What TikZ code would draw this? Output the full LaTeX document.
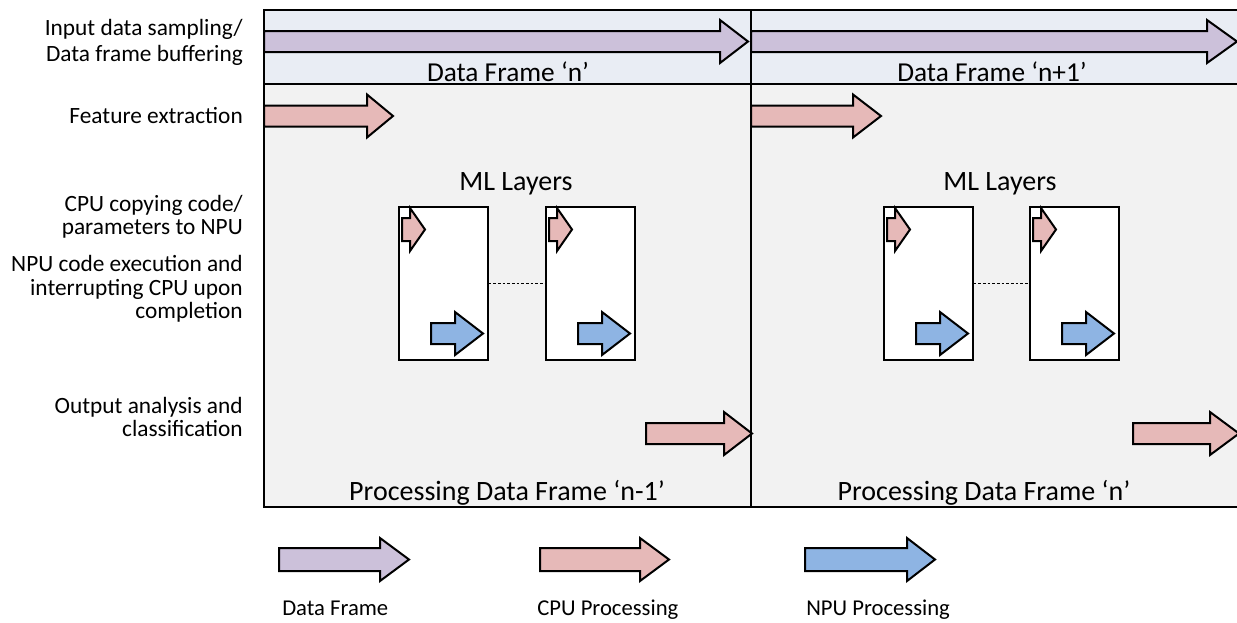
\documentclass[tikz,border=0pt]{standalone}
\usepackage{fontspec}
\setmainfont{Carlito}
\definecolor{dfpurple}{HTML}{CCC1DA}
\definecolor{cpupink}{HTML}{E6B9B8}
\definecolor{npublue}{HTML}{8EB4E3}
\definecolor{bandblue}{HTML}{E9EDF4}
\definecolor{procgray}{HTML}{F2F2F2}
\newcommand{\blockarrow}[7]{% color, xstart, xheadstart, xtip, yc, shafthalf, headhalf
  \filldraw[fill=#1, draw=black, line width=1.5pt, line join=miter]
    (#2,#5-#6) -- (#3,#5-#6) -- (#3,#5-#7) -- (#4,#5) -- (#3,#5+#7) -- (#3,#5+#6) -- (#2,#5+#6) -- cycle;}
\tikzset{
  lbl/.style={font=\fontsize{17.5}{17.5}\selectfont, align=right, anchor=east, inner sep=0pt},
  bandtxt/.style={font=\fontsize{20.5}{24}\selectfont, inner sep=0pt},
  midtxt/.style={font=\fontsize{21}{25}\selectfont, inner sep=0pt},
  legtxt/.style={font=\fontsize{17}{20}\selectfont, anchor=base west, inner sep=0pt},
  layerbox/.style={draw=black, fill=white, line width=1.2pt},
  frameline/.style={line width=1.2pt},
  layerlink/.style={line width=1pt, dash pattern=on 2pt off 1.5pt},
}
\begin{document}
\begin{tikzpicture}[x=0.75pt, y=-0.75pt]
\useasboundingbox (0,0) rectangle (1237,622);
% regions
\fill[procgray] (264,84) rectangle (1240,507);
\fill[bandblue] (264,10) rectangle (1240,84);
\draw[frameline] (264,10) rectangle (1240,507);
\draw[frameline] (264,84) -- (1240,84);
\coordinate (divtop) at (751,10);
\coordinate (divbot) at (751,507);
\draw[frameline] (divtop) -- (divbot);
% left labels
\node[lbl] (l1) at (243,42) {Input data sampling/\\[2pt]Data frame buffering};
\node[lbl] (l2) at (243,116) {Feature extraction};
\node[lbl] (l3) at (243,217) {CPU copying code/\\parameters to NPU};
\node[lbl] (l4) at (243,289) {NPU code execution and\\interrupting CPU upon\\completion};
\node[lbl] (l5) at (243,417) {Output analysis and\\classification};
% data frame arrows
\blockarrow{dfpurple}{264}{720}{748}{41.5}{10.5}{21.5}
\blockarrow{dfpurple}{751}{1207}{1237}{41.5}{10.5}{21.5}
\node[bandtxt] (df1) at (508,72) {Data Frame ‘n’};
\node[bandtxt] (df2) at (992,72) {Data Frame ‘n+1’};
% feature extraction
\blockarrow{cpupink}{264}{367}{393}{116}{10.5}{21.5}
\blockarrow{cpupink}{751}{853}{881}{116}{10.5}{21.5}
% ML layers
\node[midtxt] (ml1) at (516,184) {ML Layers};
\node[midtxt] (ml2) at (1000,184) {ML Layers};
\foreach \bx/\nm in {398/a, 545/b, 883/c, 1029/d}{
  \node[layerbox, minimum width=89*0.75pt, minimum height=153*0.75pt, anchor=north west, inner sep=0pt] (box\nm) at (\bx,206) {};
  \blockarrow{cpupink}{\bx+4}{\bx+12}{\bx+27}{229.5}{11.5}{21.5}
  \blockarrow{npublue}{\bx+33}{\bx+57}{\bx+85}{333.5}{10.5}{21.5}
}
\draw[layerlink] (boxa.east) -- (boxb.west);
\draw[layerlink] (boxc.east) -- (boxd.west);
% output analysis
\blockarrow{cpupink}{646}{724}{752}{433.5}{10.5}{21.5}
\blockarrow{cpupink}{1133}{1210}{1239}{433.5}{10.5}{21.5}
\node[midtxt] (p1) at (507,493) {Processing Data Frame ‘n-1’};
\node[midtxt] (p2) at (984,493) {Processing Data Frame ‘n’};
% legend
\blockarrow{dfpurple}{279}{380}{409}{559.5}{11.5}{21.5}
\blockarrow{cpupink}{540}{640}{669}{559.5}{11.5}{21.5}
\blockarrow{npublue}{805}{907}{935}{559.5}{11.5}{21.5}
\node[legtxt] (g1) at (282,615) {Data Frame};
\node[legtxt] (g2) at (537,615) {CPU Processing};
\node[legtxt] (g3) at (806,615) {NPU Processing};
\end{tikzpicture}
\end{document}
